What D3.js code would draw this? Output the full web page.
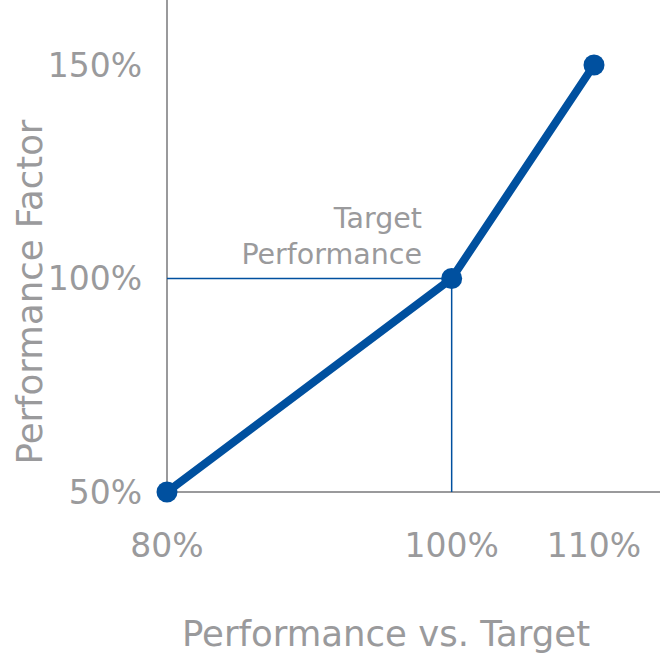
<!DOCTYPE html>
<html><head><meta charset="utf-8">
<script src="https://cdn.jsdelivr.net/npm/d3@7"></script>
<style>html,body{margin:0;padding:0;background:#fff;}svg{display:block;}</style>
</head><body>
<script>
const performanceVsTarget = [80, 100, 110];
const performanceFactor = [50, 100, 150];
const xTickLabels = ["80%", "100%", "110%"];
const yTickLabels = ["50%", "100%", "150%"];
const targetX = 100, targetY = 100;
const annotation = ["Target", "Performance"];

const W = 661, H = 661;
const font = "'DejaVu Sans', Verdana, sans-serif";
const gray = "#9a9a9c";
const blue = "#00509f";

const svg = d3.select("body").append("svg").attr("width", W).attr("height", H);
const x = d3.scaleLinear().domain([80, 110]).range([167, 594]);
const y = d3.scaleLinear().domain([50, 150]).range([492, 65]);

// axes lines
svg.append("line").attr("x1", x(80)).attr("x2", x(80)).attr("y1", 0).attr("y2", y(50))
  .attr("stroke", gray).attr("stroke-width", 2);
svg.append("line").attr("x1", x(80)).attr("x2", 660).attr("y1", y(50)).attr("y2", y(50))
  .attr("stroke", gray).attr("stroke-width", 2);

// reference lines
svg.append("line").attr("x1", x(80)).attr("x2", x(targetX)).attr("y1", y(targetY)).attr("y2", y(targetY))
  .attr("stroke", blue).attr("stroke-width", 1.5);
svg.append("line").attr("x1", x(targetX)).attr("x2", x(targetX)).attr("y1", y(targetY)).attr("y2", y(50))
  .attr("stroke", blue).attr("stroke-width", 1.5);

// tick labels
svg.selectAll(".xt").data(performanceVsTarget).enter().append("text")
  .attr("x", d => x(d)).attr("y", 545).attr("dy", "0.35em").attr("text-anchor", "middle")
  .attr("font-family", font).attr("font-size", 33).attr("fill", gray)
  .text((d, i) => xTickLabels[i]);
svg.selectAll(".yt").data(performanceFactor).enter().append("text")
  .attr("x", 142).attr("y", d => y(d)).attr("dy", "0.35em").attr("text-anchor", "end")
  .attr("font-family", font).attr("font-size", 33).attr("fill", gray)
  .text((d, i) => yTickLabels[i]);

// axis titles
svg.append("text").attr("x", 386).attr("y", 634).attr("dy", "0.35em").attr("text-anchor", "middle")
  .attr("font-family", font).attr("font-size", 35.5).attr("fill", gray).text("Performance vs. Target");
svg.append("text").attr("transform", "translate(30,292) rotate(-90)").attr("dy", "0.35em")
  .attr("text-anchor", "middle").attr("font-family", font).attr("font-size", 35.5).attr("fill", gray)
  .text("Performance Factor");

// annotation
svg.selectAll(".ann").data(annotation).enter().append("text")
  .attr("x", 422).attr("y", (d, i) => 218 + i * 36).attr("dy", "0.35em").attr("text-anchor", "end")
  .attr("font-family", font).attr("font-size", 28.5).attr("fill", gray).text(d => d);

// series
const pts = performanceVsTarget.map((v, i) => [v, performanceFactor[i]]);
svg.append("path").datum(pts)
  .attr("d", d3.line().x(d => x(d[0])).y(d => y(d[1])))
  .attr("fill", "none").attr("stroke", blue).attr("stroke-width", 8).attr("stroke-linejoin", "round");
svg.selectAll(".pt").data(pts).enter().append("circle")
  .attr("cx", d => x(d[0])).attr("cy", d => y(d[1])).attr("r", 10.5).attr("fill", blue);
</script>
</body></html>
